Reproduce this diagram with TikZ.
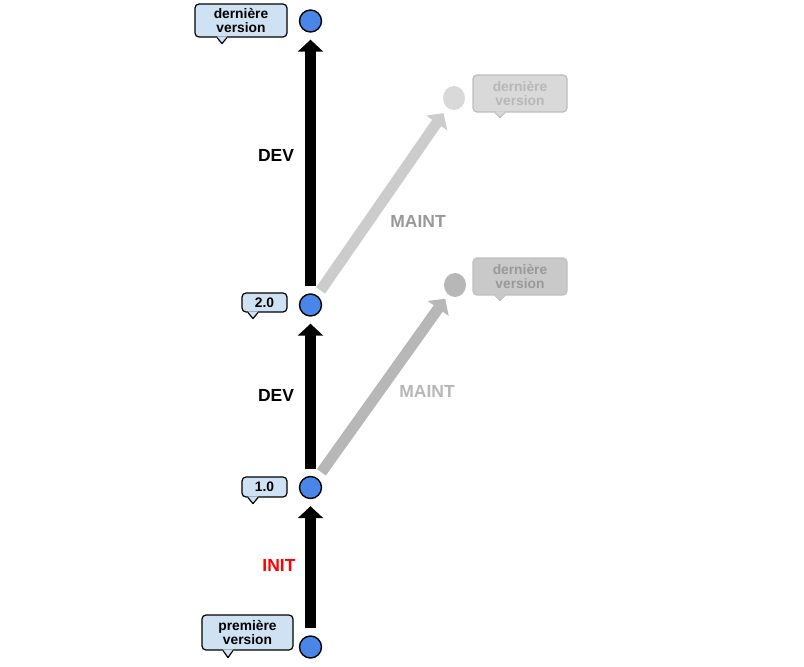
\documentclass[tikz,border=0pt]{standalone}
\usepackage{fontspec}
\setmainfont{Liberation Sans}
\usetikzlibrary{arrows.meta}
\definecolor{dotblue}{HTML}{4A86E8}
\definecolor{callblue}{HTML}{CFE2F3}
\definecolor{gA}{HTML}{CCCCCC}
\definecolor{gB}{HTML}{B7B7B7}
\definecolor{gAfill}{HTML}{D9D9D9}
\definecolor{gAline}{HTML}{BDBDBD}
\definecolor{gBfill}{HTML}{C9C9C9}
\definecolor{gBline}{HTML}{BFBFBF}
\tikzset{
  vdot/.style={circle, draw=black, line width=1.4pt, fill=dotblue, minimum size=22pt, inner sep=0pt},
  gdot/.style={ellipse, minimum width=22pt, minimum height=24pt, inner sep=0pt},
  callbox/.style={rectangle, rounded corners=4pt, line width=1.2pt, align=center,
    inner sep=0pt, font=\fontsize{13.8}{14.5}\selectfont\bfseries},
  bigarrow/.style={line width=11pt, line cap=butt, -{Triangle[length=12pt,width=25pt]},
    shorten <=7pt, shorten >=7pt},
  lbl/.style={font=\fontsize{17.5}{20}\selectfont\bfseries, inner sep=0pt}
}
% pointer: #1 node, #2 x offset, #3 depth, #4 fill, #5 line
\newcommand{\callptr}[5]{%
  \fill[#4] ([xshift=#2-5pt,yshift=1.2pt]#1.south) -- ([xshift=#2,yshift=-#3]#1.south)
     -- ([xshift=#2+5pt,yshift=1.2pt]#1.south) -- cycle;
  \draw[#5, line width=1.2pt, line join=round] ([xshift=#2-5pt]#1.south)
     -- ([xshift=#2,yshift=-#3]#1.south) -- ([xshift=#2+5pt]#1.south);
}
\usetikzlibrary{shapes.geometric}
\begin{document}
\begin{tikzpicture}[x=1pt,y=-1pt]
\useasboundingbox (0,0) rectangle (804,667);
% main line dots
\node[vdot] (v0) at (310.5,647) {};
\node[vdot] (v1) at (310.5,487.5) {};
\node[vdot] (v2) at (310.5,305) {};
\node[vdot] (v3) at (310.5,21) {};
% gray dots
\node[gdot, fill=gAfill] (g1) at (454,98) {};
\node[gdot, fill=gB] (g2) at (455,285) {};
% callouts
\node[callbox, draw=black, fill=callblue, minimum width=92pt, minimum height=33pt] (c3) at (241,20.5) {dernière\\version};
\callptr{c3}{-19pt}{6pt}{callblue}{black}
\node[callbox, draw=black, fill=callblue, minimum width=45pt, minimum height=19pt] (c2) at (264.5,302.5) {2.0};
\callptr{c2}{-11.5pt}{6pt}{callblue}{black}
\node[callbox, draw=black, fill=callblue, minimum width=45pt, minimum height=20pt] (c1) at (264.5,487) {1.0};
\callptr{c1}{-11.5pt}{6pt}{callblue}{black}
\node[callbox, draw=black, fill=callblue, minimum width=91pt, minimum height=35pt] (c0) at (247.5,632.5) {première\\version};
\callptr{c0}{-19.5pt}{7pt}{callblue}{black}
\node[callbox, draw=gAline, fill=gAfill, text=gB, minimum width=94pt, minimum height=37pt] (cg1) at (520,93.5) {dernière\\version};
\callptr{cg1}{-20pt}{5pt}{gAfill}{gAline}
\node[callbox, draw=gBline, fill=gBfill, text=black!40, minimum width=94pt, minimum height=37pt] (cg2) at (520,276.5) {dernière\\version};
\callptr{cg2}{-20pt}{5pt}{gBfill}{gBline}
% arrows
\draw[bigarrow, gA, shorten <=6pt, shorten >=6.5pt] (v2) -- (g1);
\draw[bigarrow, gB, shorten <=7pt, shorten >=5pt] (v1) -- (g2);
\draw[bigarrow, black] (v0) -- (v1);
\draw[bigarrow, black] (v1) -- (v2);
\draw[bigarrow, black] (v2) -- (v3);
% labels
\node[lbl, text=black] (dev1) at (276,155) {DEV};
\node[lbl, text=black] (dev2) at (276,395) {DEV};
\node[lbl, text=red] (init) at (279,565) {INIT};
\node[lbl, text=black!40] (m1) at (418,221) {MAINT};
\node[lbl, text=gB] (m2) at (427,391) {MAINT};
\end{tikzpicture}
\end{document}
